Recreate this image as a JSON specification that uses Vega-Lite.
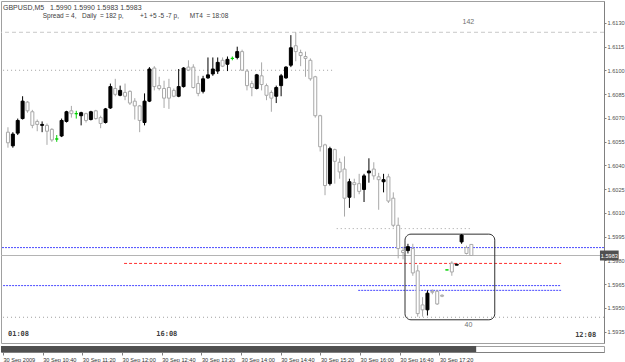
{
 "$schema": "https://vega.github.io/schema/vega-lite/v6.json",
 "padding": 0,
 "background": "white",
 "spacing": 1,
 "config": {
  "view": {"stroke": "#a0a0a0"},
  "font": "Liberation Sans",
  "axis": {"labelFont": "Liberation Sans"},
  "axisY": {
   "orient": "right",
   "title": null,
   "grid": false,
   "format": ".4f",
   "labelFontSize": 5.6,
   "labelColor": "#505050",
   "tickColor": "#808080",
   "tickSize": 2,
   "labelPadding": 1,
   "domainColor": "#808080",
   "labelOverlap": false
  }
 },
 "datasets": {
  "candles": [
   {"t":"2009-09-30T10:00Z","o":1.60609,"h":1.60640,"l":1.60511,"c":1.60542},
   {"t":"2009-09-30T10:05Z","o":1.60523,"h":1.60609,"l":1.60511,"c":1.60597},
   {"t":"2009-09-30T10:10Z","o":1.60603,"h":1.60695,"l":1.60591,"c":1.60683},
   {"t":"2009-09-30T10:15Z","o":1.60695,"h":1.60836,"l":1.60689,"c":1.60805},
   {"t":"2009-09-30T10:20Z","o":1.60799,"h":1.60805,"l":1.60732,"c":1.60744},
   {"t":"2009-09-30T10:25Z","o":1.60738,"h":1.60750,"l":1.60634,"c":1.60652},
   {"t":"2009-09-30T10:30Z","o":1.60677,"h":1.60689,"l":1.60615,"c":1.60658},
   {"t":"2009-09-30T10:35Z","o":1.60652,"h":1.60677,"l":1.60609,"c":1.60658},
   {"t":"2009-09-30T10:40Z","o":1.60652,"h":1.60664,"l":1.60529,"c":1.60615},
   {"t":"2009-09-30T10:45Z","o":1.60627,"h":1.60634,"l":1.60548,"c":1.60560},
   {"t":"2009-09-30T10:50Z","o":1.60566,"h":1.60591,"l":1.60548,"c":1.60566},
   {"t":"2009-09-30T10:55Z","o":1.60585,"h":1.60695,"l":1.60578,"c":1.60683},
   {"t":"2009-09-30T11:00Z","o":1.60677,"h":1.60744,"l":1.60670,"c":1.60738},
   {"t":"2009-09-30T11:05Z","o":1.60744,"h":1.60775,"l":1.60701,"c":1.60726},
   {"t":"2009-09-30T11:10Z","o":1.60726,"h":1.60744,"l":1.60695,"c":1.60726},
   {"t":"2009-09-30T11:15Z","o":1.60713,"h":1.60738,"l":1.60652,"c":1.60732},
   {"t":"2009-09-30T11:20Z","o":1.60726,"h":1.60732,"l":1.60670,"c":1.60683},
   {"t":"2009-09-30T11:25Z","o":1.60689,"h":1.60744,"l":1.60683,"c":1.60738},
   {"t":"2009-09-30T11:30Z","o":1.60744,"h":1.60750,"l":1.60689,"c":1.60695},
   {"t":"2009-09-30T11:35Z","o":1.60701,"h":1.60713,"l":1.60634,"c":1.60664},
   {"t":"2009-09-30T11:40Z","o":1.60670,"h":1.60762,"l":1.60664,"c":1.60756},
   {"t":"2009-09-30T11:45Z","o":1.60762,"h":1.60916,"l":1.60756,"c":1.60897},
   {"t":"2009-09-30T11:50Z","o":1.60885,"h":1.60946,"l":1.60836,"c":1.60848},
   {"t":"2009-09-30T11:55Z","o":1.60842,"h":1.60903,"l":1.60836,"c":1.60873},
   {"t":"2009-09-30T12:00Z","o":1.60860,"h":1.60916,"l":1.60811,"c":1.60836},
   {"t":"2009-09-30T12:05Z","o":1.60867,"h":1.60873,"l":1.60781,"c":1.60793},
   {"t":"2009-09-30T12:10Z","o":1.60805,"h":1.60824,"l":1.60689,"c":1.60775},
   {"t":"2009-09-30T12:15Z","o":1.60775,"h":1.60781,"l":1.60609,"c":1.60683},
   {"t":"2009-09-30T12:20Z","o":1.60670,"h":1.60854,"l":1.60652,"c":1.60805},
   {"t":"2009-09-30T12:25Z","o":1.60805,"h":1.61020,"l":1.60799,"c":1.61008},
   {"t":"2009-09-30T12:30Z","o":1.61014,"h":1.61026,"l":1.60873,"c":1.60897},
   {"t":"2009-09-30T12:35Z","o":1.60903,"h":1.60959,"l":1.60873,"c":1.60885},
   {"t":"2009-09-30T12:40Z","o":1.60885,"h":1.60934,"l":1.60762,"c":1.60824},
   {"t":"2009-09-30T12:45Z","o":1.60891,"h":1.60946,"l":1.60756,"c":1.60824},
   {"t":"2009-09-30T12:50Z","o":1.60873,"h":1.60885,"l":1.60830,"c":1.60836},
   {"t":"2009-09-30T12:55Z","o":1.60836,"h":1.61008,"l":1.60830,"c":1.60897},
   {"t":"2009-09-30T13:00Z","o":1.60897,"h":1.61020,"l":1.60891,"c":1.61014},
   {"t":"2009-09-30T13:05Z","o":1.61020,"h":1.61063,"l":1.60995,"c":1.61001},
   {"t":"2009-09-30T13:10Z","o":1.61020,"h":1.61038,"l":1.60885,"c":1.60891},
   {"t":"2009-09-30T13:15Z","o":1.60916,"h":1.60965,"l":1.60836,"c":1.60854},
   {"t":"2009-09-30T13:20Z","o":1.60867,"h":1.60965,"l":1.60854,"c":1.60946},
   {"t":"2009-09-30T13:25Z","o":1.60952,"h":1.61081,"l":1.60946,"c":1.60971},
   {"t":"2009-09-30T13:30Z","o":1.60977,"h":1.61081,"l":1.60965,"c":1.61008},
   {"t":"2009-09-30T13:35Z","o":1.60995,"h":1.61081,"l":1.60977,"c":1.61050},
   {"t":"2009-09-30T13:40Z","o":1.61063,"h":1.61081,"l":1.61020,"c":1.61026},
   {"t":"2009-09-30T13:45Z","o":1.61038,"h":1.61087,"l":1.60995,"c":1.61069},
   {"t":"2009-09-30T13:50Z","o":1.61075,"h":1.61087,"l":1.61063,"c":1.61075},
   {"t":"2009-09-30T13:55Z","o":1.61081,"h":1.61149,"l":1.61069,"c":1.61118},
   {"t":"2009-09-30T14:00Z","o":1.61118,"h":1.61130,"l":1.60995,"c":1.61001},
   {"t":"2009-09-30T14:05Z","o":1.60995,"h":1.61008,"l":1.60873,"c":1.60903},
   {"t":"2009-09-30T14:10Z","o":1.60916,"h":1.60934,"l":1.60836,"c":1.60891},
   {"t":"2009-09-30T14:15Z","o":1.60885,"h":1.60977,"l":1.60879,"c":1.60971},
   {"t":"2009-09-30T14:20Z","o":1.60965,"h":1.61050,"l":1.60873,"c":1.60910},
   {"t":"2009-09-30T14:25Z","o":1.60903,"h":1.60916,"l":1.60811,"c":1.60842},
   {"t":"2009-09-30T14:30Z","o":1.60860,"h":1.60873,"l":1.60738,"c":1.60824},
   {"t":"2009-09-30T14:35Z","o":1.60836,"h":1.60903,"l":1.60793,"c":1.60891},
   {"t":"2009-09-30T14:40Z","o":1.60903,"h":1.60977,"l":1.60836,"c":1.60965},
   {"t":"2009-09-30T14:45Z","o":1.60952,"h":1.61026,"l":1.60946,"c":1.61020},
   {"t":"2009-09-30T14:50Z","o":1.61032,"h":1.61222,"l":1.61020,"c":1.61142},
   {"t":"2009-09-30T14:55Z","o":1.61155,"h":1.61240,"l":1.61057,"c":1.61118},
   {"t":"2009-09-30T15:00Z","o":1.61112,"h":1.61130,"l":1.61026,"c":1.61093},
   {"t":"2009-09-30T15:05Z","o":1.61087,"h":1.61118,"l":1.60959,"c":1.61075},
   {"t":"2009-09-30T15:10Z","o":1.61063,"h":1.61075,"l":1.60934,"c":1.60946},
   {"t":"2009-09-30T15:15Z","o":1.60959,"h":1.60965,"l":1.60701,"c":1.60713},
   {"t":"2009-09-30T15:20Z","o":1.60713,"h":1.60719,"l":1.60487,"c":1.60517},
   {"t":"2009-09-30T15:25Z","o":1.60529,"h":1.60536,"l":1.60211,"c":1.60272},
   {"t":"2009-09-30T15:30Z","o":1.60284,"h":1.60517,"l":1.60272,"c":1.60505},
   {"t":"2009-09-30T15:35Z","o":1.60499,"h":1.60505,"l":1.60284,"c":1.60425},
   {"t":"2009-09-30T15:40Z","o":1.60419,"h":1.60444,"l":1.60315,"c":1.60358},
   {"t":"2009-09-30T15:45Z","o":1.60376,"h":1.60456,"l":1.60076,"c":1.60192},
   {"t":"2009-09-30T15:50Z","o":1.60198,"h":1.60315,"l":1.60131,"c":1.60296},
   {"t":"2009-09-30T15:55Z","o":1.60290,"h":1.60315,"l":1.60192,"c":1.60278},
   {"t":"2009-09-30T16:00Z","o":1.60284,"h":1.60346,"l":1.60217,"c":1.60235},
   {"t":"2009-09-30T16:05Z","o":1.60247,"h":1.60346,"l":1.60168,"c":1.60333},
   {"t":"2009-09-30T16:10Z","o":1.60352,"h":1.60444,"l":1.60290,"c":1.60364},
   {"t":"2009-09-30T16:15Z","o":1.60376,"h":1.60419,"l":1.60309,"c":1.60333},
   {"t":"2009-09-30T16:20Z","o":1.60327,"h":1.60352,"l":1.60119,"c":1.60309},
   {"t":"2009-09-30T16:25Z","o":1.60296,"h":1.60346,"l":1.60229,"c":1.60309},
   {"t":"2009-09-30T16:30Z","o":1.60327,"h":1.60346,"l":1.60162,"c":1.60174},
   {"t":"2009-09-30T16:35Z","o":1.60192,"h":1.60229,"l":1.60008,"c":1.60021},
   {"t":"2009-09-30T16:40Z","o":1.60021,"h":1.60070,"l":1.59812,"c":1.59874},
   {"t":"2009-09-30T16:45Z","o":1.59861,"h":1.59886,"l":1.59806,"c":1.59849},
   {"t":"2009-09-30T16:50Z","o":1.59861,"h":1.59904,"l":1.59843,"c":1.59886},
   {"t":"2009-09-30T16:55Z","o":1.59874,"h":1.59904,"l":1.59702,"c":1.59720},
   {"t":"2009-09-30T17:00Z","o":1.59733,"h":1.59769,"l":1.59444,"c":1.59463},
   {"t":"2009-09-30T17:05Z","o":1.59518,"h":1.59567,"l":1.59444,"c":1.59487},
   {"t":"2009-09-30T17:10Z","o":1.59487,"h":1.59610,"l":1.59451,"c":1.59592},
   {"t":"2009-09-30T17:15Z","o":1.59604,"h":1.59616,"l":1.59585,"c":1.59598},
   {"t":"2009-09-30T17:20Z","o":1.59604,"h":1.59610,"l":1.59518,"c":1.59524},
   {"t":"2009-09-30T17:25Z","o":1.59579,"h":1.59585,"l":1.59567,"c":1.59573},
   {"t":"2009-09-30T17:30Z","o":1.59739,"h":1.59739,"l":1.59739,"c":1.59739},
   {"t":"2009-09-30T17:35Z","o":1.59782,"h":1.59794,"l":1.59702,"c":1.59726},
   {"t":"2009-09-30T17:40Z","o":1.59769,"h":1.59775,"l":1.59769,"c":1.59775},
   {"t":"2009-09-30T17:45Z","o":1.59916,"h":1.59965,"l":1.59904,"c":1.59959},
   {"t":"2009-09-30T17:50Z","o":1.59880,"h":1.59892,"l":1.59837,"c":1.59843},
   {"t":"2009-09-30T17:55Z","o":1.59900,"h":1.59900,"l":1.59830,"c":1.59830}
  ],
  "dashTop": [{"p": 1.6124}],
  "dottedFull": [{"p": 1.5944}],
  "dottedSeg": [
   {"p": 1.6100, "from": "2009-09-30T09:55Z", "to": "2009-09-30T15:35Z"},
   {"p": 1.6000, "from": "2009-09-30T15:37Z", "to": "2009-09-30T17:54Z"}
  ],
  "blueFull": [{"p": 1.5988}],
  "blueSeg": [
   {"p": 1.5964, "from": "2009-09-30T09:55Z", "to": "2009-09-30T19:27Z"},
   {"p": 1.5961, "from": "2009-09-30T15:59Z", "to": "2009-09-30T19:27Z"}
  ],
  "redSeg": [{"p": 1.5978, "from": "2009-09-30T11:59Z", "to": "2009-09-30T19:27Z"}],
  "bid": [{"p": 1.5983, "label": "1.5983"}],
  "box": [{"from": "2009-09-30T16:47Z", "to": "2009-09-30T18:19Z", "top": 1.59965, "bottom": 1.59424}],
  "notes": [
   {"t": "2009-09-30T17:52Z", "p": 1.61302, "label": "142"},
   {"t": "2009-09-30T17:52Z", "p": 1.59389, "label": "40"}
  ],
  "timersLeft": [
   {"t": "2009-09-30T10:00Z", "p": 1.59334, "label": "01:08"},
   {"t": "2009-09-30T12:32Z", "p": 1.59334, "label": "16:08"}
  ],
  "timersRight": [{"t": "2009-09-30T20:03Z", "p": 1.59328, "label": "12:08"}],
  "strip": [{"from": "2009-09-30T09:58Z", "to": "2009-09-30T17:57Z"}]
 },
 "vconcat": [
  {
   "width": 603,
   "height": 342,
   "title": {
    "text": "GBPUSD,M5\u00a0\u00a0\u00a01.5990 1.5990 1.5983 1.5983",
    "subtitle": "\u200b\u00a0\u00a0\u00a0\u00a0\u00a0\u00a0\u00a0\u00a0\u00a0\u00a0\u00a0\u00a0\u00a0\u00a0\u00a0\u00a0\u00a0\u00a0\u00a0\u00a0\u00a0\u00a0Spread = 4,\u00a0\u00a0\u00a0Daily\u00a0\u00a0= 182 p,\u00a0\u00a0\u00a0\u00a0\u00a0\u00a0\u00a0\u00a0\u00a0+1 +5 -5 -7 p,\u00a0\u00a0\u00a0\u00a0\u00a0\u00a0MT4\u00a0\u00a0= 18:08",
    "anchor": "start",
    "frame": "group",
    "orient": "top",
    "offset": -18,
    "dx": 2,
    "fontSize": 7,
    "fontWeight": "normal",
    "color": "#404040",
    "subtitleFontSize": 6.5,
    "subtitleColor": "#404040",
    "subtitlePadding": 2
   },
   "encoding": {
    "y": {
     "type": "quantitative",
     "scale": {"domain": [1.59309, 1.61406], "nice": false, "zero": false},
     "axis": {"values": [1.5935, 1.5950, 1.5965, 1.5980, 1.5995, 1.6010, 1.6025, 1.6040, 1.6055, 1.6070, 1.6085, 1.6100, 1.6115, 1.6130], "format": ".4f", "orient": "right", "title": null}
    }
   },
   "layer": [
    {
     "data": {"name": "dashTop"},
     "mark": {"type": "rule", "color": "#c8c8c8", "strokeDash": [4, 3]},
     "encoding": {"y": {"field": "p"}}
    },
    {
     "data": {"name": "dottedFull"},
     "mark": {"type": "rule", "color": "#a0a0a0", "strokeDash": [1, 3]},
     "encoding": {"y": {"field": "p"}}
    },
    {
     "data": {"name": "dottedSeg"},
     "mark": {"type": "rule", "color": "#a0a0a0", "strokeDash": [1, 3]},
     "encoding": {
      "x": {"field": "from", "type": "temporal", "axis": null, "scale": {"type": "utc", "domain": [{"year": 2009, "month": 9, "date": 30, "hours": 9, "minutes": 57, "seconds": 59, "utc": true}, {"year": 2009, "month": 9, "date": 30, "hours": 20, "minutes": 5, "seconds": 51, "utc": true}]}},
      "x2": {"field": "to"},
      "y": {"field": "p"}
     }
    },
    {
     "data": {"name": "blueFull"},
     "mark": {"type": "rule", "color": "#4a4aff", "strokeDash": [2, 1]},
     "encoding": {"y": {"field": "p"}}
    },
    {
     "data": {"name": "blueSeg"},
     "mark": {"type": "rule", "color": "#4a4aff", "strokeDash": [2, 1]},
     "encoding": {
      "x": {"field": "from", "type": "temporal", "axis": null, "scale": {"type": "utc", "domain": [{"year": 2009, "month": 9, "date": 30, "hours": 9, "minutes": 57, "seconds": 59, "utc": true}, {"year": 2009, "month": 9, "date": 30, "hours": 20, "minutes": 5, "seconds": 51, "utc": true}]}},
      "x2": {"field": "to"},
      "y": {"field": "p"}
     }
    },
    {
     "data": {"name": "redSeg"},
     "mark": {"type": "rule", "color": "#ff3030", "strokeDash": [3, 2]},
     "encoding": {
      "x": {"field": "from", "type": "temporal", "axis": null, "scale": {"type": "utc", "domain": [{"year": 2009, "month": 9, "date": 30, "hours": 9, "minutes": 57, "seconds": 59, "utc": true}, {"year": 2009, "month": 9, "date": 30, "hours": 20, "minutes": 5, "seconds": 51, "utc": true}]}},
      "x2": {"field": "to"},
      "y": {"field": "p"}
     }
    },
    {
     "data": {"name": "bid"},
     "mark": {"type": "rule", "color": "#b4b4b4"},
     "encoding": {"y": {"field": "p"}}
    },
    {
     "data": {"name": "box"},
     "mark": {"type": "rect", "fill": null, "fillOpacity": 0, "stroke": "#303030", "strokeWidth": 1, "cornerRadius": 6},
     "encoding": {
      "x": {"field": "from", "type": "temporal", "axis": null, "scale": {"type": "utc", "domain": [{"year": 2009, "month": 9, "date": 30, "hours": 9, "minutes": 57, "seconds": 59, "utc": true}, {"year": 2009, "month": 9, "date": 30, "hours": 20, "minutes": 5, "seconds": 51, "utc": true}]}},
      "x2": {"field": "to"},
      "y": {"field": "top"},
      "y2": {"field": "bottom"}
     }
    },
    {
     "data": {"name": "candles"},
     "mark": {"type": "rule", "strokeWidth": 1},
     "encoding": {
      "x": {"field": "t", "type": "temporal", "axis": null, "scale": {"type": "utc", "domain": [{"year": 2009, "month": 9, "date": 30, "hours": 9, "minutes": 57, "seconds": 59, "utc": true}, {"year": 2009, "month": 9, "date": 30, "hours": 20, "minutes": 5, "seconds": 51, "utc": true}]}},
      "y": {"field": "l"},
      "y2": {"field": "h"},
      "color": {
       "condition": [
        {"test": "datum.c > datum.o", "value": "#000000"},
        {"test": "datum.c == datum.o", "value": "#00d000"}
       ],
       "value": "#a8a8a8"
      }
     }
    },
    {
     "data": {"name": "candles"},
     "mark": {"type": "bar", "size": 3, "strokeWidth": 1},
     "encoding": {
      "x": {"field": "t", "type": "temporal", "axis": null, "scale": {"type": "utc", "domain": [{"year": 2009, "month": 9, "date": 30, "hours": 9, "minutes": 57, "seconds": 59, "utc": true}, {"year": 2009, "month": 9, "date": 30, "hours": 20, "minutes": 5, "seconds": 51, "utc": true}]}},
      "y": {"field": "o"},
      "y2": {"field": "c"},
      "fill": {
       "condition": [
        {"test": "datum.c > datum.o", "value": "#000000"},
        {"test": "datum.c == datum.o", "value": "#00d000"}
       ],
       "value": "#ffffff"
      },
      "stroke": {
       "condition": [
        {"test": "datum.c > datum.o", "value": "#000000"},
        {"test": "datum.c == datum.o", "value": "#00d000"}
       ],
       "value": "#a8a8a8"
      }
     }
    },
    {
     "data": {"name": "notes"},
     "mark": {"type": "text", "fontSize": 7, "color": "#707070", "align": "center", "baseline": "middle"},
     "encoding": {
      "x": {"field": "t", "type": "temporal", "axis": null, "scale": {"type": "utc", "domain": [{"year": 2009, "month": 9, "date": 30, "hours": 9, "minutes": 57, "seconds": 59, "utc": true}, {"year": 2009, "month": 9, "date": 30, "hours": 20, "minutes": 5, "seconds": 51, "utc": true}]}},
      "y": {"field": "p"},
      "text": {"field": "label"}
     }
    },
    {
     "data": {"name": "timersLeft"},
     "mark": {"type": "text", "font": "DejaVu Sans Mono", "fontWeight": "bold", "fontSize": 7, "color": "#404040", "align": "left", "baseline": "middle"},
     "encoding": {
      "x": {"field": "t", "type": "temporal", "axis": null, "scale": {"type": "utc", "domain": [{"year": 2009, "month": 9, "date": 30, "hours": 9, "minutes": 57, "seconds": 59, "utc": true}, {"year": 2009, "month": 9, "date": 30, "hours": 20, "minutes": 5, "seconds": 51, "utc": true}]}},
      "y": {"field": "p"},
      "text": {"field": "label"}
     }
    },
    {
     "data": {"name": "timersRight"},
     "mark": {"type": "text", "font": "DejaVu Sans Mono", "fontWeight": "bold", "fontSize": 7, "color": "#404040", "align": "right", "baseline": "middle"},
     "encoding": {
      "x": {"field": "t", "type": "temporal", "axis": null, "scale": {"type": "utc", "domain": [{"year": 2009, "month": 9, "date": 30, "hours": 9, "minutes": 57, "seconds": 59, "utc": true}, {"year": 2009, "month": 9, "date": 30, "hours": 20, "minutes": 5, "seconds": 51, "utc": true}]}},
      "y": {"field": "p"},
      "text": {"field": "label"}
     }
    },
    {
     "data": {"name": "bid"},
     "mark": {"type": "bar", "orient": "horizontal", "size": 10, "color": "#505050"},
     "encoding": {
      "x": {"datum": {"year": 2009, "month": 9, "date": 30, "hours": 20, "minutes": 6, "seconds": 50, "utc": true}, "type": "temporal", "axis": null, "scale": {"type": "utc", "domain": [{"year": 2009, "month": 9, "date": 30, "hours": 9, "minutes": 57, "seconds": 59, "utc": true}, {"year": 2009, "month": 9, "date": 30, "hours": 20, "minutes": 5, "seconds": 51, "utc": true}]}},
      "x2": {"datum": {"year": 2009, "month": 9, "date": 30, "hours": 20, "minutes": 26, "utc": true}},
      "y": {"field": "p"}
     }
    },
    {
     "data": {"name": "bid"},
     "mark": {"type": "text", "fontSize": 5.6, "color": "#ffffff", "align": "center", "baseline": "middle"},
     "encoding": {
      "x": {"datum": {"year": 2009, "month": 9, "date": 30, "hours": 20, "minutes": 16, "seconds": 30, "utc": true}, "type": "temporal", "axis": null, "scale": {"type": "utc", "domain": [{"year": 2009, "month": 9, "date": 30, "hours": 9, "minutes": 57, "seconds": 59, "utc": true}, {"year": 2009, "month": 9, "date": 30, "hours": 20, "minutes": 5, "seconds": 51, "utc": true}]}},
      "y": {"field": "p"},
      "text": {"field": "label"}
     }
    }
   ]
  },
  {
   "width": 603,
   "height": 6,
   "data": {"name": "strip"},
   "mark": {"type": "rect", "color": "#505050"},
   "encoding": {
    "x": {
     "field": "from", "type": "temporal",
     "scale": {"type": "utc", "domain": [{"year": 2009, "month": 9, "date": 30, "hours": 9, "minutes": 57, "seconds": 59, "utc": true}, {"year": 2009, "month": 9, "date": 30, "hours": 20, "minutes": 5, "seconds": 51, "utc": true}]},
     "axis": {
      "title": null,
      "grid": false,
      "values": [
       {"year": 2009, "month": 9, "date": 30, "hours": 10, "minutes": 0, "utc": true},
       {"year": 2009, "month": 9, "date": 30, "hours": 10, "minutes": 40, "utc": true},
       {"year": 2009, "month": 9, "date": 30, "hours": 11, "minutes": 20, "utc": true},
       {"year": 2009, "month": 9, "date": 30, "hours": 12, "minutes": 0, "utc": true},
       {"year": 2009, "month": 9, "date": 30, "hours": 12, "minutes": 40, "utc": true},
       {"year": 2009, "month": 9, "date": 30, "hours": 13, "minutes": 20, "utc": true},
       {"year": 2009, "month": 9, "date": 30, "hours": 14, "minutes": 0, "utc": true},
       {"year": 2009, "month": 9, "date": 30, "hours": 14, "minutes": 40, "utc": true},
       {"year": 2009, "month": 9, "date": 30, "hours": 15, "minutes": 20, "utc": true},
       {"year": 2009, "month": 9, "date": 30, "hours": 16, "minutes": 0, "utc": true},
       {"year": 2009, "month": 9, "date": 30, "hours": 16, "minutes": 40, "utc": true},
       {"year": 2009, "month": 9, "date": 30, "hours": 17, "minutes": 20, "utc": true}
      ],
      "labelExpr": "utcFormat(datum.value, '%H:%M') == '10:00' ? '30 Sep 2009' : utcFormat(datum.value, '%d %b %H:%M')",
      "labelAlign": "left",
      "labelBaseline": "top",
      "labelFontSize": 5.6,
      "labelColor": "#303030",
      "labelPadding": 2,
      "labelOverlap": false,
      "labelFlush": false,
      "labelBound": false,
      "tickSize": 3,
      "tickColor": "#808080",
      "domainColor": "#808080"
     }
    },
    "x2": {"field": "to"}
   }
  }
 ]
}
